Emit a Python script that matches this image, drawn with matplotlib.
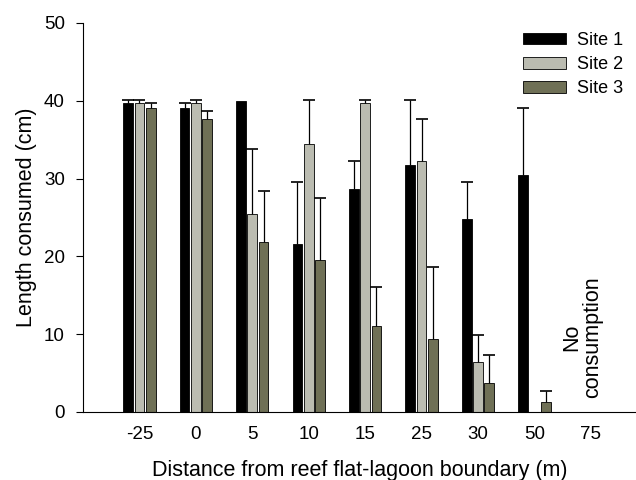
import matplotlib
matplotlib.use("Agg")
import matplotlib.pyplot as plt
import numpy as np

plt.rcParams['font.family'] = ['Liberation Sans', 'DejaVu Sans']

categories = ['-25', '0', '5', '10', '15', '25', '30', '50', '75']
site1 = [39.75, 39.1, 40.0, 21.6, 28.6, 31.8, 24.8, 30.5, np.nan]
site1_err = [0.35, 0.6, 0.0, 7.9, 3.7, 8.3, 4.8, 8.6, np.nan]
site2 = [39.75, 39.75, 25.4, 34.4, 39.75, 32.3, 6.4, np.nan, np.nan]
site2_err = [0.35, 0.35, 8.4, 5.7, 0.35, 5.3, 3.5, np.nan, np.nan]
site3 = [39.1, 37.7, 21.8, 19.5, 11.0, 9.4, 3.7, 1.3, np.nan]
site3_err = [0.6, 1.0, 6.6, 8.0, 5.1, 9.3, 3.6, 1.4, np.nan]
series = [('Site 1', site1, site1_err, '#000000'),
          ('Site 2', site2, site2_err, '#bbbcb1'),
          ('Site 3', site3, site3_err, '#6f7056')]

fig = plt.figure(figsize=(6.36, 4.8), dpi=100)
ax = fig.add_axes([0.1305, 0.1417, 0.8695, 0.8104])

x = np.arange(len(categories))
width = 0.17
offsets = [-0.2, 0.0, 0.2]
for (name, vals, errs, col), off in zip(series, offsets):
    v = np.array(vals, dtype=float)
    e = np.array(errs, dtype=float)
    ax.bar(x + off, v, width, color=col, edgecolor='black', linewidth=0.6, label=name, zorder=2)
    mask = e > 0
    cont = ax.errorbar((x + off)[mask], v[mask], yerr=[np.zeros(mask.sum()), e[mask]],
                       fmt='none', ecolor='black', elinewidth=0.9, capsize=4.5,
                       capthick=1.2, zorder=3)
    caps = cont[1]
    if len(caps) > 0:
        caps[0].set_visible(False)

ax.text(8 - 0.15, 9.6, 'No\nconsumption', rotation=90, ha='center', va='center',
        fontsize=15.5, linespacing=1.0)

ax.set_xlim(-1.0, 8.8)
ax.set_ylim(0, 50)
ax.set_xticks(x)
ax.set_xticklabels(categories, fontsize=13.5)
ax.tick_params(axis='x', length=0, pad=10)
ax.set_yticks(np.arange(0, 51, 10))
ax.tick_params(axis='y', labelsize=13.5, length=5, width=0.8, pad=8)
ax.spines['top'].set_visible(False)
ax.spines['right'].set_visible(False)
ax.spines['left'].set_linewidth(0.8)
ax.spines['bottom'].set_linewidth(0.8)
ax.set_xlabel('Distance from reef flat-lagoon boundary (m)', fontsize=15.5, labelpad=12)
ax.set_ylabel('Length consumed (cm)', fontsize=15.5, labelpad=5)

leg = ax.legend(loc='upper right', bbox_to_anchor=(0.993, 1.0), frameon=False, fontsize=13,
                handlelength=2.4, handleheight=0.6, handletextpad=0.6, labelspacing=0.4,
                borderaxespad=0.1)

fig.savefig('out.png', dpi=100)
